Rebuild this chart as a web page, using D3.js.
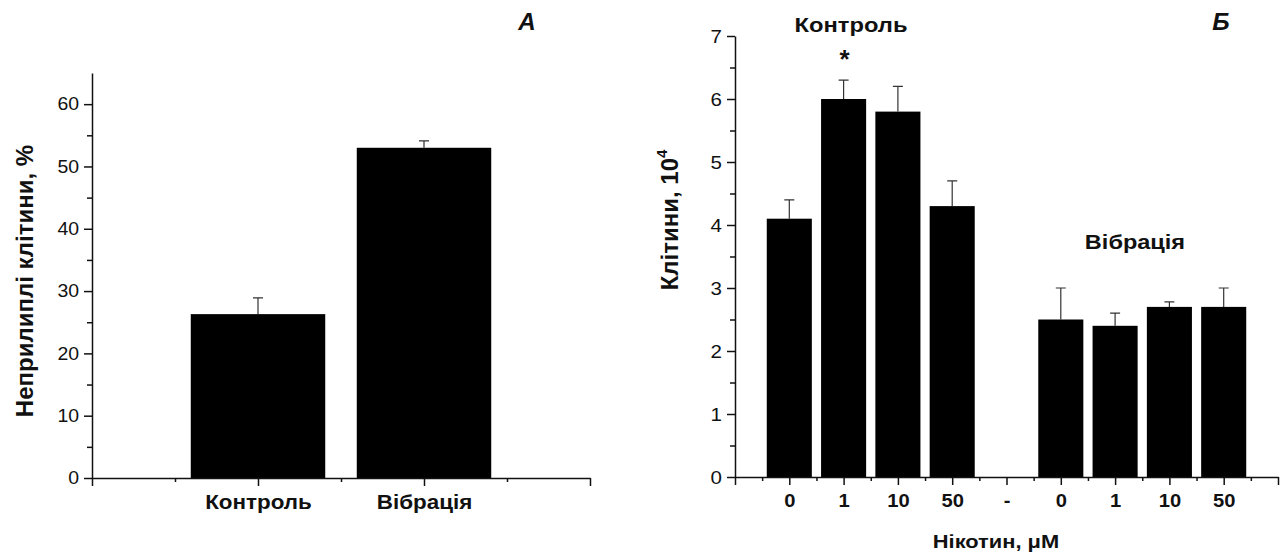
<!DOCTYPE html>
<html>
<head>
<meta charset="utf-8">
<script src="https://cdn.jsdelivr.net/npm/d3@7"></script>
<style>
  body { margin: 0; background: #fff; }
  svg text { font-family: "Liberation Sans", Arial, sans-serif; fill: #111; }
  .axis path, .axis line { stroke: #111; stroke-width: 1.5; }
</style>
</head>
<body>
<svg id="chart" width="1283" height="556"></svg>
<script>
"use strict";

// panel A
var catsA = ['Контроль', 'Вібрація'];
var valsA = [26.3, 53.0];
var errA = [2.6, 1.1];
var yTicksA = [0, 10, 20, 30, 40, 50, 60];

// panel B
var labelsB = ['0', '1', '10', '50', '-', '0', '1', '10', '50'];
var valsB = [4.1, 6.0, 5.8, 4.3, null, 2.5, 2.4, 2.7, 2.7];
var errB = [0.3, 0.3, 0.4, 0.4, null, 0.5, 0.2, 0.08, 0.3];
var yTicksB = [0, 1, 2, 3, 4, 5, 6, 7];

var svg = d3.select('#chart');

// the source figure is a little wider than its fonts, so stretch texts sideways
function widen(sel, k) {
  sel.each(function () {
    var w = this.getComputedTextLength();
    if (w > 0) {
      d3.select(this).attr('textLength', w * k).attr('lengthAdjust', 'spacingAndGlyphs');
    }
  });
}

function draw_axes(g, X, Y, majorX, minorX, labelX, majorY, minorY, xFont, yFont) {
  var h = Y.range()[0];
  g.append('g')
    .attr('class', 'axis')
    .attr('transform', 'translate(0,' + h + ')')
    .call(d3.axisBottom(X).tickValues(minorX).tickSize(4).tickFormat(''))
    .call(a => a.selectAll('path').remove());
  g.append('g')
    .attr('class', 'axis')
    .attr('transform', 'translate(0,' + h + ')')
    .call(d3.axisBottom(X).tickValues(majorX).tickSize(8).tickSizeOuter(0).tickPadding(9).tickFormat(labelX))
    .attr('font-size', xFont).attr('font-family', null).attr('font-weight', 'bold')
    .call(a => a.selectAll('text').style('font-size', xFont).style('font-weight', 'bold'))
    .call(a => widen(a.selectAll('text'), 1.12));

  var x0 = X.range()[0];
  g.append('g')
    .attr('class', 'axis')
    .attr('transform', 'translate(' + x0 + ',0)')
    .call(d3.axisLeft(Y).tickValues(minorY).tickSize(5).tickFormat(''))
    .call(a => a.selectAll('path').remove());
  g.append('g')
    .attr('class', 'axis')
    .attr('transform', 'translate(' + x0 + ',0)')
    .call(d3.axisLeft(Y).tickValues(majorY).tickSize(8).tickSizeOuter(0).tickPadding(5).tickFormat(d3.format('d')))
    .attr('font-size', yFont).attr('font-family', null)
    .call(a => a.selectAll('text').style('font-size', yFont))
    .call(a => widen(a.selectAll('text'), 1.08));
}

function draw_bars(g, X, Y, pos, vals, errs, bw) {
  var rows = vals.map((v, i) => ({ x: pos[i], v: v, e: errs[i] })).filter(d => d.v != null);
  var half = (X(bw) - X(0)) / 2;
  g.selectAll('.eb').data(rows).enter().append('path')
    .attr('class', 'eb')
    .attr('fill', 'none')
    .attr('stroke', '#333')
    .attr('stroke-width', 1.2)
    .attr('d', d => {
      var cx = X(d.x);
      return 'M' + cx + ',' + Y(d.v) + 'V' + Y(d.v + d.e) + 'M' + (cx - 5) + ',' + Y(d.v + d.e) + 'H' + (cx + 5);
    });
  g.selectAll('.bar').data(rows).enter().append('rect')
    .attr('class', 'bar')
    .attr('x', d => X(d.x) - half)
    .attr('width', 2 * half)
    .attr('y', d => Y(d.v))
    .attr('height', d => Y(0) - Y(d.v))
    .attr('fill', '#000');
}

function label(g, x, y, txt, size, k) {
  var t = g.append('text')
    .attr('x', x).attr('y', y)
    .attr('text-anchor', 'middle')
    .style('font-size', size).style('font-weight', 'bold')
    .text(txt);
  widen(t, k);
  return t;
}

// ---- panel A
var XA = d3.scaleLinear().domain([0, 3]).range([92, 590]);
var YA = d3.scaleLinear().domain([0, 65]).range([478, 73]);
var gA = svg.append('g');
var posA = catsA.map((c, i) => i + 1);
draw_bars(gA, XA, YA, posA, valsA, errA, 0.81);
draw_axes(gA, XA, YA, [0, 1, 2, 3], [0.5, 1.5, 2.5],
  d => (d >= 1 && d <= catsA.length) ? catsA[d - 1] : '',
  yTicksA, d3.range(5, 65, 10), '20px', '18px');

gA.append('text')
  .attr('transform', 'translate(33,' + 281 + ') rotate(-90)')
  .attr('text-anchor', 'middle')
  .style('font-size', '24px').style('font-weight', 'bold')
  .text('Неприлиплі клітини, %');
label(gA, 527, 30, 'A', '23px', 1.05).style('font-style', 'italic');

// ---- panel B
var XB = d3.scaleLinear().domain([0, 10]).range([735, 1278]);
var YB = d3.scaleLinear().domain([0, 7]).range([477, 36]);
var gB = svg.append('g');
var posB = labelsB.map((c, i) => i + 1);
draw_bars(gB, XB, YB, posB, valsB, errB, 0.83);
draw_axes(gB, XB, YB, d3.range(0, 11), d3.range(0.5, 10, 1),
  d => (d >= 1 && d <= labelsB.length) ? labelsB[d - 1] : '',
  yTicksB, d3.range(0.5, 7, 1), '18px', '19px');

var yt = gB.append('text')
  .attr('transform', 'translate(678,220) rotate(-90)')
  .attr('text-anchor', 'middle')
  .style('font-size', '24px').style('font-weight', 'bold');
yt.append('tspan').text('Клітини, 10');
yt.append('tspan').attr('dy', -11).style('font-size', '15px').text('4');

label(gB, 996, 548, 'Нікотин, μM', '19px', 1.15);
label(gB, 851, 32, 'Контроль', '21px', 1.13);
label(gB, XB(2) + 1, 68, '*', '26px', 1.0);
label(gB, 1135, 249, 'Вібрація', '21px', 1.12);
label(gB, 1221, 30, 'Б', '23px', 1.05).style('font-style', 'italic');
</script>
</body>
</html>
